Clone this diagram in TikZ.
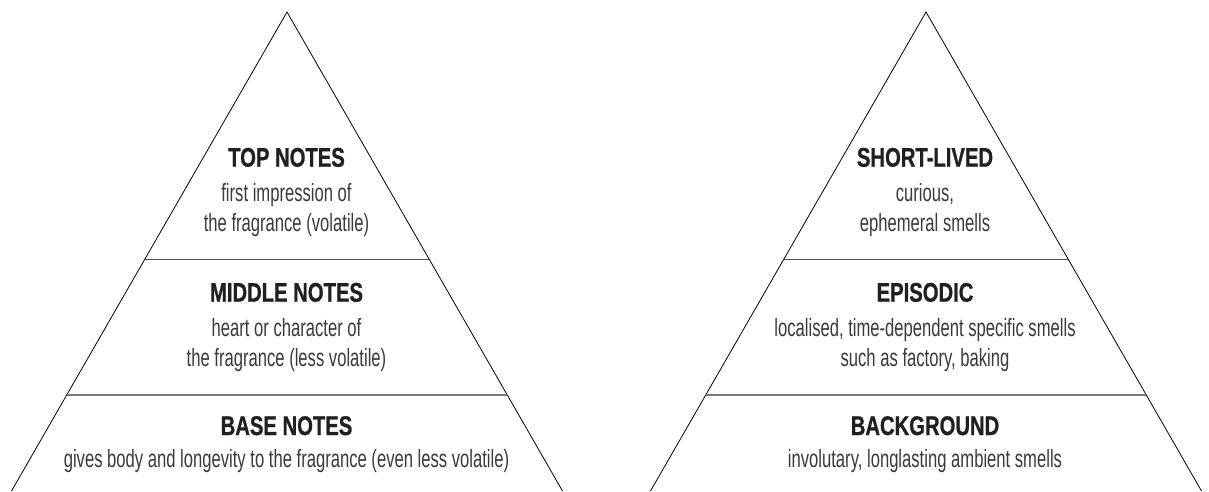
\documentclass[tikz,border=0pt]{standalone}
\usepackage{fontspec}
\setmainfont{Liberation Sans}[FakeStretch=0.665]
\newfontfamily\headfont{Liberation Sans}[FakeStretch=0.75,BoldFeatures={FakeBold=0.8}]
\usetikzlibrary{calc}
\definecolor{headc}{HTML}{231F20}
\definecolor{bodyc}{HTML}{3A3A3A}
\definecolor{rulea}{HTML}{505050}
\definecolor{ruleb}{HTML}{7A7A7A}
\tikzset{
  side/.style={draw=black, line width=0.8pt, line join=miter},
  tiertop/.style={draw=rulea, line width=0.9pt},
  tierbot/.style={draw=ruleb, line width=1.3pt},
  head/.style={anchor=base, inner sep=0pt, text=headc,
    font=\headfont\bfseries\fontsize{27}{30}\selectfont},
  body/.style={anchor=base, inner sep=0pt, align=center, text=bodyc,
    font=\fontsize{25}{30}\selectfont},
}
\begin{document}
\begin{tikzpicture}[x=1pt,y=-1pt]
  \useasboundingbox (0,0) rectangle (1209,491);
  % left pyramid
  \coordinate (LA) at (287,12);
  \coordinate (LL) at (11.5,491);
  \coordinate (LR) at (562.5,491);
  \draw[side] (LL) -- (LA) -- (LR);
  \coordinate (L1a) at ($(LA)!0.5157!(LL)$);
  \coordinate (L1b) at ($(LA)!0.5157!(LR)$);
  \coordinate (L2a) at ($(LA)!0.7996!(LL)$);
  \coordinate (L2b) at ($(LA)!0.7996!(LR)$);
  \draw[tiertop] (L1a) -- (L1b);
  \draw[tierbot] (L2a) -- (L2b);
  \node[head] (ltop) at (286.5,166.7) {TOP NOTES};
  \node[body] (ltopt) at (286.5,231.7) {first impression of\\the fragrance (volatile)};
  \node[head] (lmid) at (286.5,301.7) {MIDDLE NOTES};
  \node[body] (lmidt) at (286.5,366.7) {heart or character of\\the fragrance (less volatile)};
  \node[head] (lbase) at (286.5,435) {BASE NOTES};
  \node[body] (lbaset) at (286.5,467) {gives body and longevity to the fragrance (even less volatile)};
  % right pyramid
  \coordinate (RA) at (926,12);
  \coordinate (RL) at (650.5,491);
  \coordinate (RR) at (1201.5,491);
  \draw[side] (RL) -- (RA) -- (RR);
  \coordinate (R1a) at ($(RA)!0.5157!(RL)$);
  \coordinate (R1b) at ($(RA)!0.5157!(RR)$);
  \coordinate (R2a) at ($(RA)!0.7996!(RL)$);
  \coordinate (R2b) at ($(RA)!0.7996!(RR)$);
  \draw[tiertop] (R1a) -- (R1b);
  \draw[tierbot] (R2a) -- (R2b);
  \node[head] (rtop) at (925,166.7) {SHORT-LIVED};
  \node[body] (rtopt) at (925,231.7) {curious,\\ephemeral smells};
  \node[head] (rmid) at (925,301.7) {EPISODIC};
  \node[body] (rmidt) at (925,366.7) {localised, time-dependent specific smells\\such as factory, baking};
  \node[head] (rbase) at (925,435) {BACKGROUND};
  \node[body] (rbaset) at (925,467) {involutary, longlasting ambient smells};
\end{tikzpicture}
\end{document}
